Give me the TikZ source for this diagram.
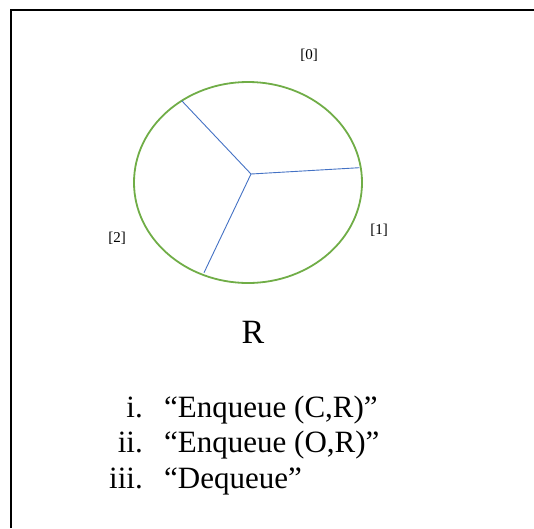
\documentclass[tikz,border=0pt]{standalone}
\usepackage{fontspec}
\setmainfont{Liberation Serif}
\definecolor{ringgreen}{RGB}{112,173,71}
\definecolor{spokeblue}{RGB}{68,114,196}
\begin{document}
\begin{tikzpicture}[x=1pt,y=-1pt,
  frame/.style={line width=2.6pt,black},
  ring/.style={draw=ringgreen,line width=1.8pt},
  spoke/.style={draw=spokeblue,line width=0.9pt},
  idx/.style={inner sep=0pt,font=\fontsize{15}{17}\selectfont},
  big/.style={inner sep=0pt,font=\fontsize{34}{38}\selectfont},
  item/.style={inner sep=0pt,font=\fontsize{31}{36}\selectfont}]
\useasboundingbox (0,0) rectangle (534,528);
\draw[frame] (11,528) -- (11,10) -- (534,10);
\draw[ring] (248,182.5) ellipse [x radius=114, y radius=100.5];
\coordinate (c) at (251,174);
\coordinate (e0) at (181.7,100.7);
\coordinate (e1) at (359.3,167.7);
\coordinate (e2) at (204,272.7);
\draw[spoke] (c) -- (e0);
\draw[spoke] (c) -- (e1);
\draw[spoke] (c) -- (e2);
\node[idx] (l0) at (309,55) {[0]};
\node[idx] (l1) at (379,230) {[1]};
\node[idx] (l2) at (117,238) {[2]};
\node[big,anchor=base] (r) at (253,343.3) {R};
\node[item,anchor=base east] (n1) at (143,417.3) {i.};
\node[item,anchor=base east] (n2) at (143,452.8) {ii.};
\node[item,anchor=base east] (n3) at (143,488.3) {iii.};
\node[item,anchor=base west] (t1) at (164,417.3) {“Enqueue (C,R)”};
\node[item,anchor=base west] (t2) at (164,452.8) {“Enqueue (O,R)”};
\node[item,anchor=base west] (t3) at (164,488.3) {“Dequeue”};
\end{tikzpicture}
\end{document}
